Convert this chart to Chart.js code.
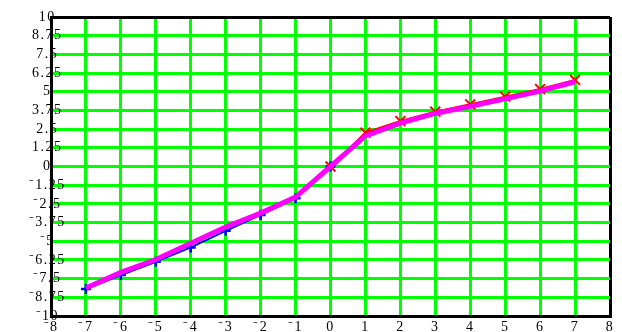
<!DOCTYPE html>
<html>
<head>
<meta charset="utf-8">
<script src="https://cdn.jsdelivr.net/npm/chart.js@4/dist/chart.umd.min.js"></script>
<style>
  html, body { margin: 0; padding: 0; background: #fff; }
  #wrap { width: 622px; height: 332px; }
</style>
</head>
<body>
<div id="wrap"><canvas id="grafico"></canvas></div>
<script>
// valores
const xNeg = [-7, -6, -5, -4, -3, -2, -1, 0];
const yNeg = [-8.2, -7.26, -6.37, -5.41, -4.3, -3.24, -2.13, 0];
const xPos = [0, 1, 2, 3, 4, 5, 6, 7];
const yPos = [0, 2.26, 3.04, 3.67, 4.16, 4.67, 5.18, 5.79];
const xAll = [-7, -6, -5, -4, -3, -2, -1, 0, 1, 2, 3, 4, 5, 6, 7];
const yAll = [-8.13, -7.08, -6.22, -5.14, -4.05, -3.12, -2.05, 0, 2.05, 2.9, 3.55, 4.02, 4.52, 5.04, 5.67];

const xTickLabels = ['⁻8', '⁻7', '⁻6', '⁻5', '⁻4', '⁻3', '⁻2', '⁻1', '0', '1', '2', '3', '4', '5', '6', '7', '8'];
const yTickLabels = ['⁻10', '⁻8.75', '⁻7.5', '⁻6.25', '⁻5', '⁻3.75', '⁻2.5', '⁻1.25', '0',
  '1.25', '2.5', '3.75', '5', '6.25', '7.5', '8.75', '10'];

const puntos = (xs, ys) => xs.map((x, i) => ({ x: x, y: ys[i] }));

const fuente = { family: 'Liberation Serif', size: 14 };

// espaciado de letras para imitar la fuente ancha
const espaciado = {
  id: 'espaciado',
  beforeDraw(chart) { chart.ctx.letterSpacing = '1.5px'; }
};

const ctx = document.getElementById('grafico').getContext('2d');

new Chart(ctx, {
  type: 'line',
  data: {
    datasets: [
      {
        data: puntos(xAll, yAll),
        borderColor: '#ff00ff',
        borderWidth: 5,
        pointRadius: 0,
        tension: 0,
        order: 0
      },
      {
        data: puntos(xNeg, yNeg),
        borderColor: '#0000ff',
        borderWidth: 2,
        pointStyle: 'cross',
        pointRadius: 5,
        pointBorderWidth: 2.5,
        pointBorderColor: '#0000ff',
        tension: 0,
        order: 1
      },
      {
        data: puntos(xPos, yPos),
        borderColor: '#ff0000',
        borderWidth: 2,
        pointStyle: 'crossRot',
        pointRadius: 7,
        pointBorderWidth: 2,
        pointBorderColor: '#ff0000',
        tension: 0,
        order: 1
      }
    ]
  },
  plugins: [espaciado],
  options: {
    responsive: true,
    maintainAspectRatio: false,
    animation: false,
    layout: { padding: { top: 17, right: 12, left: 0, bottom: 0 } },
    plugins: { legend: { display: false }, tooltip: { enabled: false } },
    scales: {
      x: {
        type: 'linear',
        min: -8,
        max: 8,
        afterFit: scale => { scale.height = 16; },
        grid: {
          lineWidth: 3,
          drawTicks: false,
          color: c => (c.tick && c.tick.value === 8 ? '#000' : '#00ff00')
        },
        border: { display: true, color: '#000', width: 3 },
        ticks: {
          stepSize: 1,
          padding: 3,
          color: '#000',
          font: fuente,
          maxRotation: 0,
          autoSkip: false,
          callback: (v, i) => xTickLabels[i]
        }
      },
      y: {
        type: 'linear',
        min: -10,
        max: 10,
        afterFit: scale => { scale.width = 51; },
        // las etiquetas invaden un poco el area del grafico, sin recorte
        afterUpdate: scale => { scale._computeLabelArea = () => undefined; },
        grid: {
          lineWidth: 3,
          drawTicks: false,
          color: c => (c.tick && c.tick.value === 10 ? '#000' : '#00ff00')
        },
        border: { display: true, color: '#000', width: 3 },
        ticks: {
          stepSize: 1.25,
          padding: -11,
          crossAlign: 'center',
          color: '#000',
          font: fuente,
          autoSkip: false,
          callback: (v, i) => yTickLabels[i]
        }
      }
    }
  }
});
</script>
</body>
</html>
